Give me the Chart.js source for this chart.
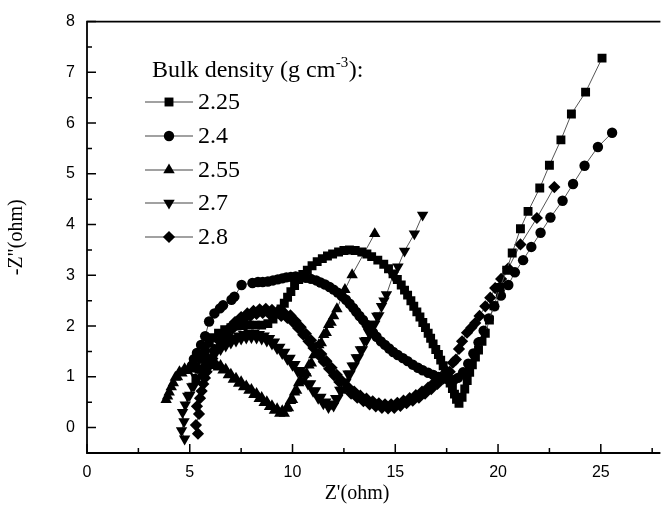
<!DOCTYPE html>
<html><head><meta charset="utf-8">
<script src="https://cdn.jsdelivr.net/npm/chart.js@4/dist/chart.umd.min.js"></script>
<style>html,body{margin:0;padding:0;background:#fff;overflow:hidden}</style>
</head><body>
<canvas id="c" width="667" height="514"></canvas>
<script>
// ---- data ----
const seriesLabels = ['2.25', '2.4', '2.55', '2.7', '2.8'];
const xTicks = [0, 5, 10, 15, 20, 25];
const yTicks = [0, 1, 2, 3, 4, 5, 6, 7, 8];
const xMinor = [2.5, 7.5, 12.5, 17.5, 22.5, 27.5];
const yMinor = [0.5, 1.5, 2.5, 3.5, 4.5, 5.5, 6.5, 7.5];

const x225 = [5.3,5.45,5.6,5.75,5.95,6.15,6.4,6.7,7.0,7.3,7.6,7.9,8.2,8.5,8.8,9.05,9.25,9.44,9.6,9.76,9.92,10.1,10.3,10.5,10.72,10.95,11.2,11.45,11.7,11.95,12.24,12.5,12.77,13.05,13.37,13.62,13.85,14.15,14.44,14.67,14.89,15.1,15.29,15.45,15.6,15.76,15.9,16.05,16.2,16.34,16.47,16.6,16.72,16.84,16.97,17.1,17.21,17.33,17.45,17.56,17.67,17.78,17.88,17.98,18.1,18.25,18.38,18.5,18.62,18.75,18.9,19.05,19.22,19.38,19.58,19.8,20.1,20.42,20.69,21.09,21.46,22.03,22.5,23.06,23.57,24.26,25.06];
const y225 = [0.95,1.15,1.35,1.52,1.66,1.77,1.86,1.93,1.97,2.0,2.01,2.02,2.02,2.02,2.05,2.14,2.24,2.34,2.45,2.57,2.68,2.8,2.92,3.02,3.1,3.19,3.27,3.33,3.38,3.42,3.46,3.49,3.5,3.49,3.46,3.42,3.37,3.3,3.22,3.13,3.03,2.92,2.81,2.71,2.61,2.5,2.39,2.28,2.18,2.07,1.97,1.86,1.76,1.65,1.54,1.44,1.33,1.22,1.11,1.0,0.88,0.77,0.66,0.56,0.48,0.6,0.76,0.93,1.09,1.24,1.39,1.53,1.7,1.86,2.12,2.4,2.76,3.1,3.44,3.92,4.26,4.72,5.17,5.67,6.18,6.61,7.28];

const x240 = [5.1,5.2,5.35,5.55,5.75,5.94,6.2,6.47,6.62,7.03,7.17,7.52,8.05,8.32,8.55,8.8,9.05,9.28,9.5,9.7,9.92,10.15,10.4,10.65,10.9,11.15,11.36,11.58,11.8,12.0,12.2,12.4,12.6,12.78,12.95,13.1,13.26,13.43,13.6,13.76,13.92,14.09,14.3,14.5,14.7,14.9,15.12,15.37,15.6,15.85,16.1,16.33,16.6,16.85,17.1,17.35,17.6,17.85,18.05,18.3,18.55,18.8,19.05,19.3,19.55,19.82,20.14,20.5,20.82,21.22,21.62,22.07,22.55,23.14,23.65,24.21,24.86,25.55];
const y240 = [1.22,1.35,1.47,1.63,1.8,2.09,2.25,2.35,2.41,2.52,2.58,2.81,2.85,2.87,2.87,2.88,2.9,2.92,2.94,2.96,2.97,2.98,2.97,2.95,2.93,2.9,2.86,2.82,2.77,2.72,2.66,2.59,2.52,2.44,2.36,2.28,2.2,2.12,2.03,1.95,1.87,1.79,1.7,1.63,1.56,1.49,1.43,1.37,1.31,1.24,1.18,1.13,1.08,1.04,1.0,0.97,0.94,0.94,0.98,1.09,1.26,1.46,1.68,1.91,2.15,2.39,2.6,2.81,3.06,3.3,3.56,3.84,4.14,4.47,4.8,5.16,5.53,5.81];

const x255 = [3.85,3.92,4.0,4.1,4.2,4.3,4.4,4.5,4.62,4.75,4.88,5.0,5.12,5.25,5.38,5.5,5.62,5.75,5.88,6.0,6.12,6.25,6.38,6.5,6.62,6.75,6.88,7.0,7.12,7.25,7.38,7.5,7.62,7.75,7.88,8.0,8.12,8.25,8.38,8.5,8.62,8.75,8.88,9.0,9.12,9.25,9.38,9.5,9.6,9.7,9.8,9.9,10.0,10.1,10.2,10.3,10.42,10.55,10.68,10.8,10.92,11.04,11.16,11.28,11.4,11.52,11.64,11.76,11.88,12.0,12.16,12.55,12.9,14.0];
const y255 = [0.55,0.62,0.7,0.8,0.88,0.99,1.0,1.1,1.07,1.16,1.12,1.19,1.15,1.22,1.17,1.25,1.2,1.27,1.22,1.29,1.22,1.27,1.19,1.22,1.13,1.15,1.04,1.05,0.95,0.97,0.87,0.9,0.8,0.82,0.73,0.75,0.65,0.67,0.57,0.59,0.49,0.51,0.41,0.43,0.34,0.37,0.28,0.33,0.28,0.38,0.39,0.53,0.55,0.7,0.73,0.88,0.91,1.05,1.07,1.23,1.27,1.43,1.47,1.63,1.67,1.83,1.87,2.03,2.07,2.2,2.34,2.72,3.01,3.82];

const x270 = [4.75,4.6,4.72,4.65,4.78,4.9,5.0,5.1,5.2,5.3,5.4,5.5,5.6,5.7,5.8,5.9,6.0,6.12,6.25,6.38,6.5,6.62,6.75,6.88,7.0,7.12,7.25,7.38,7.5,7.62,7.75,7.88,8.0,8.12,8.25,8.38,8.5,8.62,8.75,8.88,9.0,9.12,9.25,9.38,9.5,9.62,9.75,9.88,10.0,10.12,10.25,10.38,10.5,10.62,10.75,10.88,11.0,11.12,11.25,11.38,11.5,11.62,11.75,11.88,12.0,12.1,12.2,12.3,12.4,12.5,12.6,12.7,12.8,12.9,13.0,13.1,13.2,13.3,13.4,13.5,13.6,13.7,13.8,13.9,14.0,14.1,14.2,14.33,14.45,14.57,14.89,15.13,15.45,15.93,16.33];
const y270 = [-0.22,-0.06,0.12,0.3,0.45,0.62,0.64,0.81,0.82,0.99,0.99,1.14,1.13,1.27,1.25,1.38,1.35,1.49,1.46,1.58,1.54,1.66,1.61,1.72,1.67,1.77,1.71,1.81,1.75,1.84,1.77,1.86,1.78,1.86,1.77,1.84,1.75,1.81,1.71,1.76,1.65,1.69,1.56,1.59,1.46,1.49,1.35,1.37,1.23,1.25,1.11,1.13,0.99,1.01,0.86,0.87,0.72,0.73,0.58,0.6,0.47,0.51,0.4,0.47,0.43,0.58,0.58,0.74,0.74,0.9,0.9,1.06,1.06,1.22,1.22,1.38,1.38,1.54,1.54,1.71,1.72,1.88,1.88,2.04,2.04,2.2,2.21,2.39,2.5,2.62,3.0,3.17,3.48,3.82,4.19];

const x280 = [5.4,5.3,5.45,5.35,5.5,5.58,5.66,5.74,5.82,5.9,6.0,6.1,6.2,6.32,6.45,6.58,6.7,6.82,6.95,7.08,7.2,7.35,7.5,7.65,7.8,7.95,8.1,8.25,8.4,8.55,8.7,8.85,9.0,9.15,9.3,9.45,9.6,9.75,9.9,10.02,10.15,10.28,10.4,10.52,10.65,10.78,10.9,11.02,11.15,11.28,11.4,11.52,11.65,11.78,11.9,12.02,12.15,12.28,12.4,12.55,12.7,12.85,13.0,13.15,13.3,13.45,13.6,13.75,13.9,14.05,14.2,14.35,14.5,14.65,14.8,14.95,15.1,15.25,15.4,15.55,15.7,15.85,16.0,16.15,16.3,16.45,16.6,16.75,16.9,17.05,17.2,17.35,17.5,17.65,17.8,17.95,18.1,18.25,18.49,18.7,18.89,19.1,19.38,19.62,19.86,20.15,20.5,21.09,21.89,22.74];
const y280 = [-0.12,0.05,0.27,0.42,0.58,0.72,0.86,0.98,1.1,1.2,1.34,1.36,1.53,1.54,1.7,1.7,1.85,1.83,1.97,1.95,2.08,2.05,2.18,2.14,2.25,2.2,2.3,2.24,2.33,2.26,2.34,2.25,2.32,2.23,2.3,2.2,2.26,2.16,2.21,2.08,2.1,1.96,1.98,1.83,1.85,1.7,1.72,1.57,1.58,1.43,1.45,1.3,1.31,1.16,1.18,1.03,1.04,0.9,0.92,0.78,0.8,0.67,0.71,0.59,0.63,0.52,0.57,0.46,0.52,0.42,0.48,0.39,0.46,0.38,0.46,0.39,0.49,0.43,0.53,0.48,0.58,0.53,0.64,0.59,0.71,0.67,0.79,0.76,0.89,0.86,0.99,0.97,1.11,1.1,1.28,1.34,1.55,1.7,1.87,1.97,2.06,2.2,2.39,2.56,2.75,2.93,3.14,3.61,4.13,4.74];

// ---- styles ----
const markerStyles = [
  {pointStyle: 'rect', radius: 6.3, rotation: 0},
  {pointStyle: 'circle', radius: 5.2, rotation: 0},
  {pointStyle: 'triangle', radius: 6.6, rotation: 0},
  {pointStyle: 'triangle', radius: 6.6, rotation: 180},
  {pointStyle: 'rectRot', radius: 6.1, rotation: 0}
];
const seriesX = [x225, x240, x255, x270, x280];
const seriesY = [y225, y240, y255, y270, y280];

function toPoints(xs, ys) { return xs.map((v, i) => ({x: v, y: ys[i]})); }

const datasets = seriesLabels.map((lab, i) => ({
  label: lab,
  data: toPoints(seriesX[i], seriesY[i]),
  showLine: true,
  borderColor: '#555',
  borderWidth: 1,
  pointStyle: markerStyles[i].pointStyle,
  pointRadius: markerStyles[i].radius,
  pointRotation: markerStyles[i].rotation,
  pointBackgroundColor: '#000',
  pointBorderColor: '#000',
  pointBorderWidth: 0,
  pointHoverRadius: markerStyles[i].radius,
  tension: 0
}));

function drawMarker(ctx, style, x, y) {
  const r = style.radius;
  ctx.beginPath();
  if (style.pointStyle === 'rect') {
    const s = r * Math.SQRT1_2;
    ctx.rect(x - s, y - s, 2 * s, 2 * s);
  } else if (style.pointStyle === 'circle') {
    ctx.arc(x, y, r, 0, Math.PI * 2);
  } else if (style.pointStyle === 'triangle') {
    const dir = style.rotation === 180 ? -1 : 1;
    const h = r * 1.5, half = r * Math.sqrt(3) / 2;
    ctx.moveTo(x, y - dir * r);
    ctx.lineTo(x + half, y + dir * (h - r));
    ctx.lineTo(x - half, y + dir * (h - r));
    ctx.closePath();
  } else if (style.pointStyle === 'rectRot') {
    ctx.moveTo(x, y - r); ctx.lineTo(x + r, y); ctx.lineTo(x, y + r); ctx.lineTo(x - r, y); ctx.closePath();
  }
  ctx.fill();
}

const decor = {
  id: 'decor',
  afterDraw(chart) {
    const ctx = chart.ctx, a = chart.chartArea, sx = chart.scales.x, sy = chart.scales.y;
    ctx.save();
    ctx.strokeStyle = '#000';
    ctx.lineWidth = 1.8;
    ctx.beginPath();
    ctx.moveTo(a.right, a.top); ctx.lineTo(a.left, a.top); ctx.lineTo(a.left, a.bottom); ctx.lineTo(a.right, a.bottom);
    ctx.stroke();
    ctx.lineWidth = 1.5;
    ctx.beginPath();
    xTicks.forEach(v => { const p = sx.getPixelForValue(v); ctx.moveTo(p, a.bottom); ctx.lineTo(p, a.bottom - 9); });
    xMinor.forEach(v => { const p = sx.getPixelForValue(v); ctx.moveTo(p, a.bottom); ctx.lineTo(p, a.bottom - 5); });
    yTicks.forEach(v => { const p = sy.getPixelForValue(v); ctx.moveTo(a.left, p); ctx.lineTo(a.left + 9, p); });
    yMinor.forEach(v => { const p = sy.getPixelForValue(v); ctx.moveTo(a.left, p); ctx.lineTo(a.left + 5, p); });
    ctx.stroke();

    // axis titles
    ctx.fillStyle = '#000';
    ctx.font = '20px "Liberation Serif"';
    ctx.textAlign = 'center';
    ctx.textBaseline = 'middle';
    ctx.fillText("Z'(ohm)", 357, 494);
    ctx.save();
    ctx.translate(17, (a.top + a.bottom) / 2);
    ctx.rotate(-Math.PI / 2);
    ctx.fillText('-Z"(ohm)', 0, 0);
    ctx.restore();

    // legend
    ctx.textAlign = 'left';
    ctx.textBaseline = 'alphabetic';
    ctx.font = '24px "Liberation Serif"';
    const t1 = 'Bulk density (g cm';
    let tx = 152, ty = 77;
    ctx.fillText(t1, tx, ty);
    tx += ctx.measureText(t1).width;
    ctx.font = '15px "Liberation Serif"';
    ctx.fillText('-3', tx + 0.5, ty - 10);
    tx += ctx.measureText('-3').width + 1;
    ctx.font = '24px "Liberation Serif"';
    ctx.fillText('):', tx, ty);

    const rowY = [102, 136, 170, 203, 237];
    seriesLabels.forEach((lab, i) => {
      const y = rowY[i];
      ctx.strokeStyle = '#444'; ctx.lineWidth = 1.2;
      ctx.beginPath(); ctx.moveTo(145, y); ctx.lineTo(193, y); ctx.stroke();
      ctx.fillStyle = '#000';
      drawMarker(ctx, markerStyles[i], 169, y);
      ctx.font = '24px "Liberation Serif"';
      ctx.textBaseline = 'middle';
      ctx.fillText(lab, 198, y + 1);
    });
    ctx.restore();
  }
};

new Chart(document.getElementById('c'), {
  type: 'scatter',
  data: {datasets},
  options: {
    responsive: false,
    animation: false,
    devicePixelRatio: 1,
    layout: {padding: {top: 18, right: 0, left: 0, bottom: 0}},
    plugins: {legend: {display: false}, tooltip: {enabled: false}},
    scales: {
      x: {
        type: 'linear', min: 0, max: 27.9,
        grid: {display: false, drawTicks: false},
        border: {display: false},
        afterBuildTicks: s => { s.ticks = xTicks.map(v => ({value: v})); },
        afterFit: s => { s.height = 61; },
        ticks: {padding: 10, color: '#000', font: {family: 'Liberation Sans', size: 16}, maxRotation: 0}
      },
      y: {
        type: 'linear', min: -0.5, max: 8,
        grid: {display: false, drawTicks: false},
        border: {display: false},
        afterBuildTicks: s => { s.ticks = yTicks.map(v => ({value: v})); },
        afterFit: s => { s.width = 87; },
        ticks: {padding: 12, color: '#000', font: {family: 'Liberation Sans', size: 16}}
      }
    }
  },
  plugins: [decor]
});
</script>
</body></html>
